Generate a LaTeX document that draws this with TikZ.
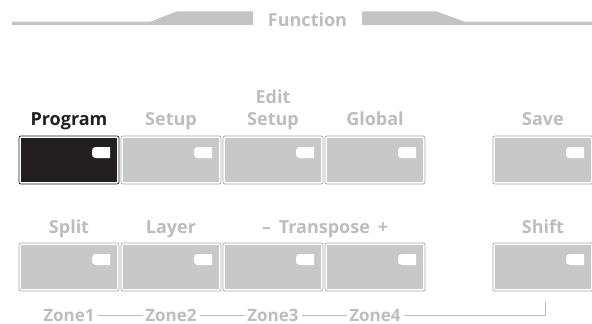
\documentclass[tikz,border=0pt]{standalone}
\usepackage{fontspec}
\setmainfont{Open Sans}
\begin{document}
\begin{tikzpicture}[x=1pt,y=-1pt,
  lbl/.style={font=\fontsize{18}{22}\selectfont\bfseries, text=lblgray, inner sep=0pt, anchor=base, align=center},
  zone/.style={font=\fontsize{17}{20}\selectfont\bfseries, text=lblgray, inner sep=0pt},
  zline/.style={draw=lblgray, line width=1pt},
]
\definecolor{lblgray}{HTML}{BDBDBD}
\definecolor{btngray}{HTML}{C8C8C8}
\definecolor{rimgray}{HTML}{A8A8A8}
\definecolor{barcol}{HTML}{C4C4C4}
\definecolor{dark}{HTML}{231F20}
\useasboundingbox (0,0) rectangle (592,324);
\clip (0,0) rectangle (592,324);
% top function bar
\fill[barcol] (12,21.5) -- (151,21.5) -- (177,11.3) -- (253,11.3) -- (253,25) -- (12,25) -- cycle;
\fill[barcol] (362,11.3) -- (436,11.3) -- (464,21.5) -- (600,21.5) -- (600,25) -- (362,25) -- cycle;
\node[lbl] (func) at (307.5,27) {Function};
% button macro
\newcommand{\mybtn}[5]{% name, x1, y1, fill, rim
  \draw[#5, line width=0.7pt, fill=white, rounded corners=2pt] (#2,#3) rectangle ++(100,48);
  \fill[#4] (#2+1.6,#3+1.6) rectangle ++(96.8,44.8);
  \fill[white, rounded corners=3.5pt] (#2+81,#3+11) -- (#2+73,#3+11) -- (#2+73,#3+22) -- (#2+81,#3+22) [sharp corners] -- (#2+91,#3+22) -- (#2+91,#3+11) -- cycle;
  \coordinate (#1) at (#2+50,#3+24);
  \coordinate (#1-s) at (#2+50,#3+48);
}
% row 1
\mybtn{b1}{19}{136}{dark}{dark}
\mybtn{b2}{121}{136}{btngray}{rimgray}
\mybtn{b3}{223}{136}{btngray}{rimgray}
\mybtn{b4}{325}{136}{btngray}{rimgray}
\mybtn{b5}{493}{136}{btngray}{rimgray}
% row 2
\mybtn{c1}{19}{243}{btngray}{rimgray}
\mybtn{c2}{121}{243}{btngray}{rimgray}
\mybtn{c3}{223}{243}{btngray}{rimgray}
\mybtn{c4}{325}{243}{btngray}{rimgray}
\mybtn{c5}{493}{243}{btngray}{rimgray}
% labels row 1
\node[lbl, text=dark] (lprog) at (69,125) {Program};
\node[lbl] (lsetup) at (171,125) {Setup};
\node[lbl] (ledit1) at (273,103) {Edit};
\node[lbl] (ledit2) at (273,125) {Setup};
\node[lbl] (lglob) at (375,125) {Global};
\node[lbl] (lsave) at (543,125) {Save};
% labels row 2
\node[lbl] (lsplit) at (69,233) {Split};
\node[lbl] (llayer) at (171,233) {Layer};
\node[lbl] (ltrans) at (325,233) {–\;\,Transpose\;\,+};
\node[lbl] (lshift) at (543,233) {Shift};
% zones
\node[zone, anchor=base] (z1) at (69,321) {Zone1};
\node[zone, anchor=base] (z2) at (171,321) {Zone2};
\node[zone, anchor=base] (z3) at (273,321) {Zone3};
\node[zone, anchor=base] (z4) at (375,321) {Zone4};
\coordinate (zc) at (545,315);
\coordinate (ze) at (545,302);
\draw[zline] ([xshift=3pt]z1.east |- 0,315) -- ([xshift=-2pt]z2.west |- 0,315);
\draw[zline] ([xshift=3pt]z2.east |- 0,315) -- ([xshift=-2pt]z3.west |- 0,315);
\draw[zline] ([xshift=3pt]z3.east |- 0,315) -- ([xshift=-2pt]z4.west |- 0,315);
\draw[zline] ([xshift=3pt]z4.east |- 0,315) -- (zc) -- (ze);
\end{tikzpicture}
\end{document}
